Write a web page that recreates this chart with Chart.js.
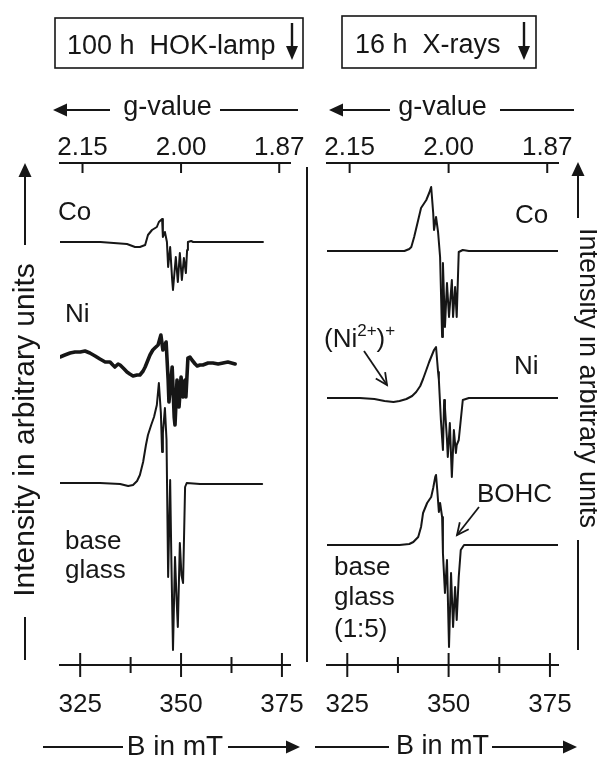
<!DOCTYPE html>
<html><head><meta charset="utf-8">
<script src="https://cdn.jsdelivr.net/npm/chart.js@4.4.1/dist/chart.umd.min.js"></script>
<style>
html,body{margin:0;padding:0;background:#fff;}
#wrap{position:relative;width:597px;height:757px;background:#fff;}
canvas{position:absolute;left:0;top:0;}
</style></head><body>
<div id="wrap"><canvas id="cL" width="597" height="757"></canvas><canvas id="cR" width="597" height="757"></canvas></div>
<script>
// ---------------- data ----------------
const bTicks = [325, 337.5, 350, 362.5, 375];            // mT
const bTickLabels = ['325', '', '350', '', '375'];
const gTicks = [2.15, 2.00, 1.87];
const gTickLabels = ['2.15', '2.00', '1.87'];
const gTimesB = 700;                                    // g·B (mT): g = 2.00 at 350 mT

// 100 h HOK-lamp panel
const hokCoB = [320, 330, 336.6, 338.6, 339.8, 341.1, 341.8, 342.8, 344.0, 344.5, 345.3, 345.5, 346.0, 346.5, 346.8, 347.3, 347.8, 348.0, 348.7, 349.2, 349.7, 350.2, 350.7, 351.2, 351.5, 351.7, 352.5, 353.0, 370.3];
const hokCoI = [42.3, 42.3, 42.1, 41.8, 41.8, 42.0, 43.0, 43.5, 43.8, 44.3, 44.6, 42.8, 43.3, 42.3, 39.8, 41.8, 38.5, 37.5, 40.8, 38.3, 41.2, 38.5, 40.7, 39.2, 41.5, 42.3, 42.4, 42.3, 42.3];

const hokNiB = [320.0, 321.2, 322.5, 323.7, 325.0, 326.2, 327.4, 328.7, 329.9, 331.2, 332.4, 333.1, 333.6, 334.4, 334.9, 335.9, 336.6, 337.3, 338.1, 339.1, 339.8, 340.6, 341.1, 341.8, 342.3, 343.0, 343.5, 344.3, 345.0, 345.5, 346.3, 346.8, 347.0, 347.8, 348.3, 348.5, 349.0, 349.5, 350.0, 350.5, 351.0, 351.2, 351.7, 352.2, 352.7, 353.5, 354.0, 354.7, 355.4, 356.7, 357.9, 359.2, 360.4, 361.6, 363.4];
const hokNiI = [30.8, 31.0, 31.2, 31.3, 31.3, 31.4, 31.2, 30.9, 30.6, 30.3, 30.3, 30.0, 29.8, 30.1, 30.0, 29.6, 29.3, 29.1, 28.9, 29.0, 29.0, 29.4, 29.8, 30.5, 31.0, 31.5, 31.7, 32.0, 33.0, 31.5, 32.3, 28.5, 26.3, 29.8, 24.8, 24.0, 28.5, 25.8, 28.8, 26.8, 28.5, 26.8, 30.7, 30.8, 30.5, 30.1, 29.9, 30.0, 30.0, 30.2, 30.2, 30.1, 30.2, 30.3, 30.1];

const hokBaseB = [320, 329.9, 334.9, 336.9, 338.1, 339.1, 339.8, 340.6, 341.3, 341.8, 342.6, 343.3, 344.0, 344.5, 345.0, 345.3, 345.5, 346.0, 346.4, 346.8, 347.3, 347.6, 348.0, 348.5, 348.9, 349.2, 349.7, 350.1, 350.5, 351.0, 351.4, 354.7, 370.1];
const hokBaseI = [18.2, 18.2, 18.1, 17.9, 18.0, 18.4, 19.0, 20.3, 22.0, 23.0, 24.0, 24.8, 26.0, 28.2, 25.2, 21.3, 23.2, 25.7, 22.5, 8.8, 18.5, 10.5, 1.5, 10.8, 6.5, 3.8, 12.2, 9.0, 8.2, 17.8, 18.2, 18.1, 18.1];

// 16 h X-rays panel
const xrCoB = [320, 333, 339.1, 340.3, 340.8, 341.5, 342.5, 343.2, 344.5, 345.2, 345.7, 346.2, 346.4, 346.9, 347.4, 347.9, 348.4, 348.6, 349.1, 349.6, 350.1, 350.8, 351.1, 351.6, 352.0, 352.5, 353.5, 355.0, 377.0];
const xrCoI = [41.4, 41.4, 41.4, 41.6, 41.8, 42.8, 44.5, 45.7, 46.5, 47.2, 47.8, 45.2, 43.5, 44.8, 43.3, 40.8, 32.8, 40.2, 33.8, 38.2, 34.8, 38.5, 34.8, 37.8, 34.8, 41.3, 41.5, 41.4, 41.4];

const xrNiB = [320.0, 328.1, 331.7, 334.2, 336.4, 337.9, 339.6, 341.0, 342.0, 343.0, 343.7, 344.5, 345.2, 345.9, 346.4, 346.9, 347.2, 347.4, 347.6, 348.1, 348.6, 348.9, 349.1, 349.6, 349.8, 350.3, 350.8, 351.3, 351.8, 352.0, 352.5, 353.0, 353.5, 355.0, 377.0];
const xrNiI = [26.7, 26.7, 26.6, 26.4, 26.3, 26.4, 26.6, 26.9, 27.3, 27.9, 28.6, 29.5, 30.3, 31.0, 31.5, 31.8, 30.3, 29.3, 28.5, 24.5, 21.5, 26.5, 25.7, 22.5, 20.8, 24.2, 18.8, 23.5, 21.2, 22.0, 22.5, 24.5, 26.5, 26.7, 26.7];

const xrBaseB = [320, 337.9, 340.3, 341.3, 342.5, 343.2, 343.7, 344.7, 345.7, 346.2, 346.7, 346.9, 347.2, 347.6, 347.9, 348.4, 348.6, 349.1, 349.6, 350.1, 350.6, 351.1, 351.6, 352.0, 352.5, 353.0, 353.8, 355.0, 377.0];
const xrBaseI = [12.0, 12.0, 12.1, 12.3, 12.8, 13.8, 15.2, 16.2, 16.8, 17.7, 18.8, 19.0, 17.5, 15.3, 16.2, 14.8, 11.2, 7.2, 10.5, 1.8, 9.2, 3.8, 7.8, 4.5, 8.8, 11.5, 12.0, 12.0, 12.0];

// ---------------- drawing ----------------
const FONT = '"Liberation Sans", Arial, Helvetica, sans-serif';
const INK = '#161616';

function pts(B, I) { return B.map((b, i) => ({ x: b, y: I[i] })); }

function seg(ctx, x1, y1, x2, y2) { ctx.beginPath(); ctx.moveTo(x1, y1); ctx.lineTo(x2, y2); ctx.stroke(); }
function head(ctx, x, y, dir, L = 14, W = 6.5) {
  ctx.beginPath();
  ctx.moveTo(x, y);
  if (dir === 'left') { ctx.lineTo(x + L, y - W); ctx.lineTo(x + L, y + W); }
  if (dir === 'right') { ctx.lineTo(x - L, y - W); ctx.lineTo(x - L, y + W); }
  if (dir === 'up') { ctx.lineTo(x - W, y + L); ctx.lineTo(x + W, y + L); }
  if (dir === 'down') { ctx.lineTo(x - W, y - L); ctx.lineTo(x + W, y - L); }
  ctx.closePath(); ctx.fill();
}
function openArrow(ctx, x1, y1, x2, y2) {
  seg(ctx, x1, y1, x2, y2);
  const a = Math.atan2(y2 - y1, x2 - x1), L = 13, s = 0.45;
  ctx.beginPath();
  ctx.moveTo(x2 - L * Math.cos(a - s), y2 - L * Math.sin(a - s));
  ctx.lineTo(x2, y2);
  ctx.lineTo(x2 - L * Math.cos(a + s), y2 - L * Math.sin(a + s));
  ctx.stroke();
}
function txt(ctx, t, x, y, size, align = 'left') {
  ctx.font = size + 'px ' + FONT; ctx.textAlign = align; ctx.textBaseline = 'alphabetic';
  ctx.fillText(t, x, y);
}

function decoPlugin(d) {
  return {
    id: 'deco',
    afterDraw(chart) {
      const ctx = chart.ctx, xs = chart.scales.x, area = chart.chartArea;
      ctx.save();
      ctx.strokeStyle = INK; ctx.fillStyle = INK; ctx.lineWidth = 2;
      // B-axis tick marks crossing the axis line
      bTicks.forEach((b, i) => {
        const px = xs.getPixelForValue(b), h = bTickLabels[i] ? 12 : 8;
        seg(ctx, px, area.bottom - h, px, area.bottom + h);
      });
      // g-axis tick marks pointing into the plot
      gTicks.forEach(g => {
        const px = xs.getPixelForValue(gTimesB / g);
        seg(ctx, px, area.top, px, area.top + 10);
      });
      // "g-value" arrow parts
      seg(ctx, d.gArrow[0] + 10, 110, d.gArrow[1], 110); head(ctx, d.gArrow[0], 110, 'left');
      seg(ctx, d.gLine[0], 110, d.gLine[1], 110);
      // "B in mT" arrow parts
      seg(ctx, d.bLine[0], 747, d.bLine[1], 747);
      seg(ctx, d.bArrow[0], 747, d.bArrow[1] - 10, 747); head(ctx, d.bArrow[1], 747, 'right');
      // irradiation box
      ctx.lineWidth = 1.6;
      ctx.strokeRect(d.box[0], d.box[1], d.box[2], d.box[3]);
      ctx.lineWidth = 2.4;
      seg(ctx, d.boxArrow[0], d.boxArrow[1], d.boxArrow[0], d.boxArrow[2] - 10);
      head(ctx, d.boxArrow[0], d.boxArrow[2], 'down', 14, 6);
      ctx.lineWidth = 2;
      ctx.fillStyle = INK;
      txt(ctx, d.boxText, d.boxTextX, d.boxTextY, 27);
      // intensity axis
      const ya = d.yAxis;
      seg(ctx, ya.x, ya.tip + 10, ya.x, ya.topEnd); head(ctx, ya.x, ya.tip, 'up');
      seg(ctx, ya.x, ya.botStart, ya.x, ya.botEnd);
      ctx.save();
      ctx.translate(ya.tx, ya.ty); ctx.rotate(ya.rot);
      ctx.font = ya.size + 'px ' + FONT; ctx.textAlign = 'center'; ctx.textBaseline = 'middle';
      ctx.fillText('Intensity in arbitrary units', 0, 0);
      ctx.restore();
      // separator
      if (d.sep) seg(ctx, d.sep[0], d.sep[1], d.sep[0], d.sep[2]);
      // sample labels
      d.labels.forEach(l => txt(ctx, l.t, l.x, l.y, 26));
      // pointers
      ctx.lineWidth = 1.8;
      (d.pointers || []).forEach(p => openArrow(ctx, p[0], p[1], p[2], p[3]));
      // (Ni2+)+ label with superscripts
      if (d.niLabel) {
        let [x, y] = d.niLabel;
        const part = (t, size, dy) => { txt(ctx, t, x, y + dy, size); ctx.font = size + 'px ' + FONT; x += ctx.measureText(t).width; };
        part('(Ni', 26, 0); part('2+', 17, -11); part(')', 26, 0); part('+', 17, -11);
      }
      ctx.restore();
    }
  };
}

function panelChart(id, padLeft, padRight, sets, d) {
  const axisFont = { family: FONT, size: 26 };
  return new Chart(document.getElementById(id), {
    type: 'line',
    data: {
      datasets: sets.map(s => ({
        label: s.name, data: pts(s.B, s.I), borderColor: INK, borderWidth: s.w,
        pointRadius: 0, tension: 0, fill: false, borderJoinStyle: 'round', borderCapStyle: 'round'
      }))
    },
    options: {
      responsive: false, animation: false, devicePixelRatio: 1,
      layout: { padding: { left: padLeft, right: padRight, top: 0, bottom: 0 } },
      plugins: { legend: { display: false }, tooltip: { enabled: false } },
      scales: {
        x: {
          type: 'linear', position: 'bottom', min: 320, max: 377,
          afterFit: s => { s.height = 92; },
          afterBuildTicks: s => { s.ticks = bTicks.map(v => ({ value: v })); },
          grid: { display: false, drawTicks: false },
          border: { display: true, color: INK, width: 2 },
          ticks: { autoSkip: false, maxRotation: 0, minRotation: 0, padding: 24, color: INK, font: axisFont,
                   callback: (v, i) => bTickLabels[i] },
          title: { display: true, text: 'B in mT', color: INK,
                   font: { family: FONT, size: d.bSize, lineHeight: '20px' }, padding: { top: 0, bottom: 0 } }
        },
        g: {
          type: 'linear', position: 'top', min: 320, max: 377,
          afterFit: s => { s.height = 163; },
          afterBuildTicks: s => { s.ticks = gTicks.map(g => ({ value: gTimesB / g })); },
          grid: { display: false, drawTicks: false },
          border: { display: true, color: INK, width: 2 },
          ticks: { autoSkip: false, maxRotation: 0, minRotation: 0, padding: 0, color: INK, font: axisFont,
                   callback: (v, i) => gTickLabels[i] },
          title: { display: true, text: d.gTitle, color: INK,
                   font: { family: FONT, size: 27, lineHeight: '20px' }, padding: { top: 98, bottom: 0 } }
        },
        y: { display: false, min: 0, max: 50.2 }
      }
    },
    plugins: [decoPlugin(d)]
  });
}

panelChart('cL', 60, 307, [
  { name: 'Co', B: hokCoB, I: hokCoI, w: 2 },
  { name: 'Ni', B: hokNiB, I: hokNiI, w: 3.6 },
  { name: 'base glass', B: hokBaseB, I: hokBaseI, w: 2 }
], {
  gTitle: 'g-value  ', bSize: 28,
  gArrow: [53, 110], gLine: [220, 298],
  bLine: [43, 123], bArrow: [228, 300],
  box: [55, 18, 248, 50], boxArrow: [292, 23, 60],
  boxText: '100 h  HOK-lamp', boxTextX: 67, boxTextY: 54,
  yAxis: { x: 25, tip: 163, topEnd: 245, botStart: 617, botEnd: 660, tx: 26, ty: 430, rot: -Math.PI / 2, size: 30 },
  sep: [307, 167, 662],
  labels: [{ t: 'Co', x: 58, y: 220 }, { t: 'Ni', x: 65, y: 322 }, { t: 'base', x: 65, y: 549 }, { t: 'glass', x: 65, y: 578 }]
});

panelChart('cR', 327, 37, [
  { name: 'Co', B: xrCoB, I: xrCoI, w: 2 },
  { name: 'Ni', B: xrNiB, I: xrNiI, w: 2 },
  { name: 'base glass (1:5)', B: xrBaseB, I: xrBaseI, w: 2 }
], {
  gTitle: 'g-value', bSize: 27,
  gArrow: [329, 390], gLine: [500, 574],
  bLine: [315, 389], bArrow: [492, 577],
  box: [342, 16, 194, 52], boxArrow: [524, 22, 60],
  boxText: '16 h  X-rays', boxTextX: 355, boxTextY: 53,
  yAxis: { x: 578, tip: 162, topEnd: 218, botStart: 540, botEnd: 650, tx: 587, ty: 378, rot: Math.PI / 2, size: 27 },
  labels: [{ t: 'Co', x: 515, y: 223 }, { t: 'Ni', x: 514, y: 374 }, { t: 'BOHC', x: 477, y: 502 },
           { t: 'base', x: 334, y: 575 }, { t: 'glass', x: 334, y: 605 }, { t: '(1:5)', x: 334, y: 637 }],
  pointers: [[364, 351, 387, 385], [479, 507, 457, 535]],
  niLabel: [324, 347]
});
</script>
</body></html>
